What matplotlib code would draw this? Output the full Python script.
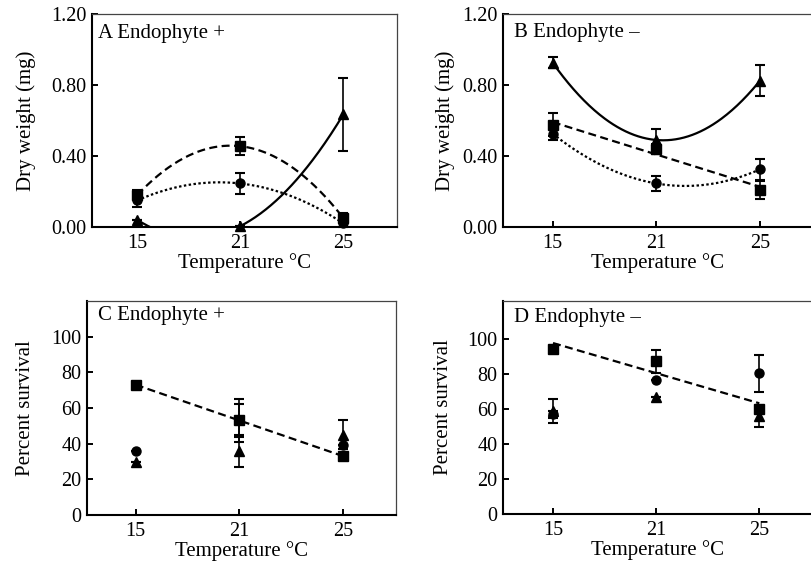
import numpy as np
import matplotlib
matplotlib.use("Agg")
import matplotlib.pyplot as plt

plt.rcParams['font.family'] = ['Liberation Serif', 'DejaVu Serif']

# temperatures (categorical positions on the x axis)
temps = ["15", "21", "25"]

# A: dry weight, endophyte +
a_sq = [0.18, 0.455, 0.05]
a_sq_err = [0.03, 0.05, 0.03]
a_ci = [0.15, 0.245, 0.02]
a_ci_err = [0.04, 0.06, 0.02]
a_tr = [0.04, 0.005, 0.635]
a_tr_err = [0.0, 0.0, 0.205]

# B: dry weight, endophyte -
b_sq = [0.575, 0.44, 0.21]
b_sq_err = [0.065, 0.03, 0.05]
b_ci = [0.525, 0.245, 0.325]
b_ci_err = [0.035, 0.045, 0.06]
b_tr = [0.925, 0.49, 0.825]
b_tr_err = [0.03, 0.06, 0.085]

# C: percent survival, endophyte +
c_sq = [73, 53, 33]
c_sq_err = [0, 12, 0]
c_ci = [36, 53, 39.5]
c_ci_err = [0, 9, 0]
c_tr = [29.5, 36, 45]
c_tr_err = [0, 9, 8]

# D: percent survival, endophyte -
d_sq = [94.5, 87.5, 60]
d_sq_err = [0, 6.5, 0]
d_ci = [57, 77, 80.5]
d_ci_err = [2, 0, 10.5]
d_tr = [59, 67, 56]
d_tr_err = [7, 0, 6]

x = np.arange(len(temps))
xs = np.linspace(0, 2, 200)

DASH = (0, (3.6, 2.0))
DOT = (0, (1.1, 1.1))


def fit_line(ax, y, deg, ls):
    p = np.polyfit(x, y, deg)
    ax.plot(xs, np.polyval(p, xs), color='black', lw=1.6, ls=ls, zorder=2)


def points(ax, y, err, marker, ms):
    ax.errorbar(x, y, yerr=err, fmt='none', ecolor='black', elinewidth=1.2,
                capsize=3.6, capthick=1.5, zorder=3, clip_on=False)
    ax.plot(x, y, ls='none', marker=marker, ms=ms, color='black', zorder=4,
            clip_on=False)


def style(ax, xlim, ylim, yticks, ylabels, ylabel, label, lx, ly, lpad):
    ax.set_xlim(*xlim)
    ax.set_ylim(*ylim)
    ax.set_xticks(x)
    ax.set_xticklabels(temps)
    ax.set_yticks(yticks)
    ax.set_yticklabels(ylabels)
    ax.tick_params(direction='in', length=4, width=1.4, labelsize=14.5, pad=4)
    ax.tick_params(axis='x', pad=5)
    for s in ['left', 'bottom']:
        ax.spines[s].set_linewidth(1.5)
        ax.spines[s].set_color('black')
    for s in ['top', 'right']:
        ax.spines[s].set_linewidth(0.9)
        ax.spines[s].set_color('#444444')
    ax.set_xlabel("Temperature \u00b0C", fontsize=15, labelpad=0)
    ax.set_ylabel(ylabel, fontsize=15, labelpad=lpad)
    ax.text(lx, ly, label, transform=ax.transAxes, fontsize=15, va='top', ha='left')


fig = plt.figure(figsize=(8.11, 5.69), dpi=100)
axA = fig.add_axes([0.1134, 0.6011, 0.3761, 0.3743])
axB = fig.add_axes([0.6202, 0.6011, 0.3822, 0.3743])
axC = fig.add_axes([0.1073, 0.0949, 0.3810, 0.3761])
axD = fig.add_axes([0.6202, 0.0967, 0.3822, 0.3743])

wt_ticks = [0, 0.4, 0.8, 1.2]
wt_labels = ["0.00", "0.40", "0.80", "1.20"]
pc_ticks = [0, 20, 40, 60, 80, 100]
pc_labels = [str(t) for t in pc_ticks]

# panel A
fit_line(axA, a_sq, 2, DASH)
fit_line(axA, a_ci, 2, DOT)
fit_line(axA, a_tr, 2, '-')
points(axA, a_sq, a_sq_err, 's', 7)
points(axA, a_ci, a_ci_err, 'o', 6.5)
points(axA, a_tr, a_tr_err, '^', 6.5)
style(axA, (-0.44, 2.52), (0, 1.2), wt_ticks, wt_labels, "Dry weight (mg)",
      "A Endophyte +", 0.02, 0.955, 11)

# panel B
fit_line(axB, b_sq, 1, DASH)
fit_line(axB, b_ci, 2, DOT)
fit_line(axB, b_tr, 2, '-')
points(axB, b_sq, b_sq_err, 's', 7)
points(axB, b_ci, b_ci_err, 'o', 6.5)
points(axB, b_tr, b_tr_err, '^', 6.5)
style(axB, (-0.48, 2.51), (0, 1.2), wt_ticks, wt_labels, "Dry weight (mg)",
      "B Endophyte \u2013", 0.035, 0.96, 5)

# panel C
fit_line(axC, c_sq, 1, DASH)
points(axC, c_ci, c_ci_err, 'o', 6.5)
points(axC, c_tr, c_tr_err, '^', 6.5)
points(axC, c_sq, c_sq_err, 's', 7)
style(axC, (-0.47, 2.51), (0, 120), pc_ticks, pc_labels, "Percent survival",
      "C Endophyte +", 0.035, 0.975, 11.5)

# panel D
fit_line(axD, d_sq, 1, DASH)
points(axD, d_ci, d_ci_err, 'o', 6.5)
points(axD, d_tr, d_tr_err, '^', 6.5)
points(axD, d_sq, d_sq_err, 's', 7)
style(axD, (-0.485, 2.52), (0, 122), pc_ticks, pc_labels, "Percent survival",
      "D Endophyte \u2013", 0.035, 0.965, 10)

fig.savefig("out.png", dpi=100)
